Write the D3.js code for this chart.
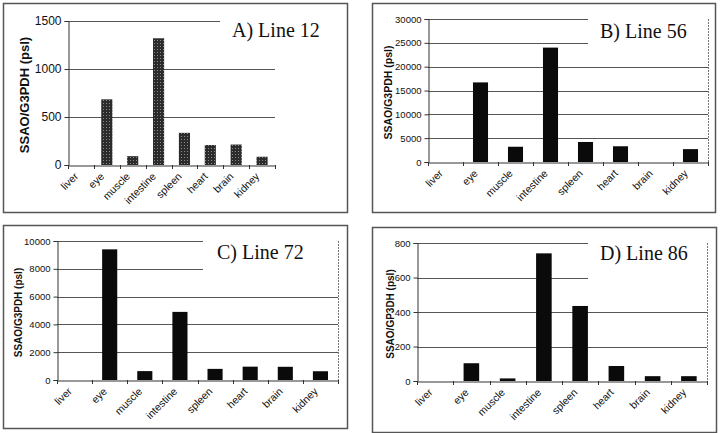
<!DOCTYPE html>
<html><head><meta charset="utf-8">
<script src="https://cdn.jsdelivr.net/npm/d3@7"></script>
<style>
html,body{margin:0;padding:0;background:#fff;}
svg{display:block;}
</style></head>
<body>
<svg id="chart" width="720" height="433"></svg>
<script>
const categories = ["liver","eye","muscle","intestine","spleen","heart","brain","kidney"];
const line12 = [0, 684, 92, 1320, 335, 208, 213, 86];
const line56 = [0, 16700, 3200, 24000, 4200, 3300, 0, 2700];
const line72 = [0, 9400, 640, 4900, 800, 960, 950, 630];
const line86 = [0, 103, 15, 740, 435, 87, 28, 28];
const ticks12 = [0, 500, 1000, 1500];
const ticks56 = [0, 5000, 10000, 15000, 20000, 25000, 30000];
const ticks72 = [0, 2000, 4000, 6000, 8000, 10000];
const ticks86 = [0, 200, 400, 600, 800];
const titles = ["A) Line 12", "B) Line 56", "C) Line 72", "D) Line 86"];
const yLabels = ["SSAO/G3PDH (psl)", "SSAO/G3PDH (psl)", "SSAO/G3PDH (psl)", "SSAO/GP3DH (psl)"];

const svg = d3.select("#chart");
const defs = svg.append("defs");
const pat = defs.append("pattern").attr("id","stipple").attr("patternUnits","userSpaceOnUse")
  .attr("width",3).attr("height",3);
pat.append("rect").attr("width",3).attr("height",3).attr("fill","#2b2b2b");
pat.append("rect").attr("x",1).attr("y",1).attr("width",1).attr("height",1).attr("fill","#8a8a8a");

const panels = [
  {values:line12, ticks:ticks12, title:titles[0], ylab:yLabels[0],
   box:[3,3,344,209], plot:{x0:68,x1:275,y0:21,y1:165}, cover:[220,12,57,48],
   rightBorder:false, fill:"url(#stipple)", tickFont:12, ylabFont:13, ylabX:24,
   titleX:232, titleY:37},
  {values:line56, ticks:ticks56, title:titles[1], ylab:yLabels[1],
   box:[372,3,343,209], plot:{x0:428,x1:708,y0:19,y1:162}, cover:[588,11,122,44],
   rightBorder:true, fill:"#0a0a0a", tickFont:9.5, ylabFont:10.5, ylabX:388,
   titleX:600, titleY:38},
  {values:line72, ticks:ticks72, title:titles[2], ylab:yLabels[2],
   box:[3,225,344,203], plot:{x0:57,x1:338,y0:241,y1:380}, cover:[203,233,137,48],
   rightBorder:true, fill:"#0a0a0a", tickFont:9.5, ylabFont:10, ylabX:18,
   titleX:217, titleY:259},
  {values:line86, ticks:ticks86, title:titles[3], ylab:yLabels[3],
   box:[372,227,344,205], plot:{x0:417,x1:707,y0:243,y1:381}, cover:[588,235,121,58],
   rightBorder:true, fill:"#0a0a0a", tickFont:9.5, ylabFont:10, ylabX:390,
   titleX:600, titleY:260}
];

panels.forEach(p => {
  const g = svg.append("g");
  g.append("rect").attr("x",p.box[0]+0.5).attr("y",p.box[1]+0.5)
    .attr("width",p.box[2]).attr("height",p.box[3])
    .attr("fill","#fff").attr("stroke","#555").attr("stroke-width",1.5);

  const x = d3.scaleBand().domain(categories).range([p.plot.x0, p.plot.x1])
    .paddingInner(0.57).paddingOuter(0.285);
  const y = d3.scaleLinear().domain([0, d3.max(p.ticks)]).range([p.plot.y1, p.plot.y0]);

  g.append("g").selectAll("line").data(p.ticks.filter(t => t > 0)).join("line")
    .attr("x1",p.plot.x0).attr("x2",p.plot.x1)
    .attr("y1",d => Math.round(y(d))+0.5).attr("y2",d => Math.round(y(d))+0.5)
    .attr("stroke","#555").attr("stroke-width",1);

  g.append("rect").attr("x",p.cover[0]).attr("y",p.cover[1])
    .attr("width",p.cover[2]).attr("height",p.cover[3]).attr("fill","#fff");

  if (p.rightBorder) {
    g.append("line").attr("x1",p.plot.x1+0.5).attr("x2",p.plot.x1+0.5)
      .attr("y1",p.plot.y0).attr("y2",p.plot.y1)
      .attr("stroke","#777").attr("stroke-width",1).attr("stroke-dasharray","2,1");
  }

  g.append("g").selectAll("rect").data(categories.map((c,i)=>({c, v:p.values[i]}))).join("rect")
    .attr("x",d => x(d.c)).attr("width",x.bandwidth())
    .attr("y",d => y(d.v)).attr("height",d => y(0)-y(d.v))
    .attr("fill",p.fill);

  const ya = d3.axisLeft(y).tickValues(p.ticks).tickSize(4).tickPadding(3).tickFormat(d3.format("d"));
  const yg = g.append("g").attr("transform",`translate(${p.plot.x0+0.5},0)`).call(ya);
  yg.select(".domain").attr("stroke","#333");
  yg.selectAll(".tick line").attr("stroke","#333");
  yg.selectAll("text").attr("font-family","Arial, 'Liberation Sans', sans-serif")
    .attr("font-size",p.tickFont).attr("fill","#111");

  const xa = d3.axisBottom(x).tickSize(0).tickSizeOuter(0).tickFormat("");
  const xg = g.append("g").attr("transform",`translate(0,${p.plot.y1+0.5})`).call(xa);
  xg.select(".domain").attr("stroke","#333");
  g.append("g").selectAll("text").data(categories).join("text")
    .attr("transform",d => `translate(${x(d)+x.bandwidth()/2-2},${p.plot.y1+12}) rotate(-45)`)
    .attr("text-anchor","end")
    .attr("font-family","Arial, 'Liberation Sans', sans-serif")
    .attr("font-size",10.5).attr("fill","#111").text(d => d);

  const step = x.step();
  g.append("g").selectAll("line").data(d3.range(categories.length+1)).join("line")
    .attr("x1",i => Math.round(p.plot.x0 + i*step)+0.5).attr("x2",i => Math.round(p.plot.x0 + i*step)+0.5)
    .attr("y1",p.plot.y1).attr("y2",p.plot.y1+4)
    .attr("stroke","#333");

  const cy = (p.plot.y0 + p.plot.y1)/2 + 2;
  g.append("text").attr("transform",`translate(${p.ylabX},${cy}) rotate(-90)`)
    .attr("text-anchor","middle").attr("dy","0.35em")
    .attr("font-family","Arial, 'Liberation Sans', sans-serif").attr("font-weight","bold")
    .attr("font-size",p.ylabFont).attr("fill","#111").text(p.ylab);

  g.append("text").attr("x",p.titleX).attr("y",p.titleY)
    .attr("font-family","'Times New Roman', 'Liberation Serif', serif")
    .attr("font-size",20).attr("fill","#111").text(p.title);
});
</script>
</body></html>
